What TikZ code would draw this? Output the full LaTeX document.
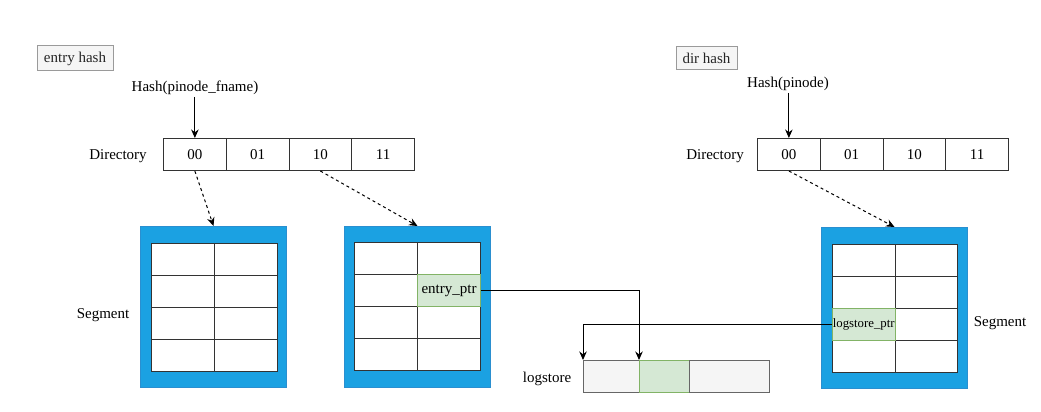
\documentclass[tikz,border=0pt]{standalone}
\usepackage{fontspec}
\setmainfont{Liberation Serif}
\usetikzlibrary{arrows.meta}
\definecolor{segblue}{HTML}{1BA1E2}
\definecolor{segborder}{HTML}{2A8FD0}
\definecolor{ptrgreen}{HTML}{D5E8D4}
\definecolor{ptrborder}{HTML}{82B366}
\definecolor{taggray}{HTML}{F5F5F5}
\definecolor{tagborder}{HTML}{9A9A9A}
\definecolor{celline}{HTML}{333333}
\begin{document}
\begin{tikzpicture}[x=1pt,y=-1pt,line width=1pt,
  every node/.style={font=\fontsize{15}{18}\selectfont},
  lbl/.style={inner sep=0pt},
  tag/.style={draw=tagborder,fill=taggray,inner sep=0pt,text=black!85},
  dircell/.style={draw=celline,minimum width=62.75pt,minimum height=32pt,inner sep=0pt,anchor=north west},
  seg/.style={draw=segborder,fill=segblue,anchor=north west,minimum width=146pt,minimum height=161pt,inner sep=0pt},
  tcell/.style={draw=celline,fill=white,minimum width=63pt,minimum height=32pt,inner sep=0pt,anchor=north west},
  ptrcell/.style={tcell,fill=ptrgreen,draw=ptrborder},
  lcell/.style={draw=black!60,fill=taggray,minimum height=32pt,inner sep=0pt,anchor=north west},
  dasharrow/.style={dashed,-{Stealth[length=8.5pt,width=7.5pt]}},
  solidarrow/.style={-{Stealth[length=8.5pt,width=7.5pt]}},
]
\useasboundingbox (0,0) rectangle (1041,412);

% ---------- left: entry hash ----------
\node[tag,minimum width=76pt,minimum height=25pt] (tagE) at (75,58.5) {entry hash};
\node[lbl] (hashE) at (195,87.5) {Hash(pinode\_fname)};
\node[lbl] (dirE) at (118,156) {Directory};
\node[dircell] (e1) at (163,138) {00};
\node[dircell] (e2) at (225.75,138) {01};
\node[dircell] (e3) at (288.5,138) {10};
\node[dircell] (e4) at (351.25,138) {11};
\coordinate (hE) at ([yshift=-2pt]hashE.south -| e1.north);
\draw[solidarrow] (hE) -- (e1.north);

% segment 1
\node[seg] (seg1) at (140,226) {};
\foreach \r in {1,...,4}
  \foreach \c in {1,2}
    \node[tcell] (sA-\r-\c) at ({151+63*(\c-1)},{243+32*(\r-1)}) {};
\node[lbl] (segL) at (103,315) {Segment};

% segment 2
\node[seg] (seg2) at (344,226) {};
\foreach \r/\c in {1/1,1/2,2/1,3/1,3/2,4/1,4/2}
  \node[tcell] (sB-\r-\c) at ({354+63*(\c-1)},{242+32*(\r-1)}) {};
\node[ptrcell] (eptr) at (417,274) {entry\_ptr};

\draw[dasharrow] (e1.south) -- (seg1.north);
\draw[dasharrow] (e3.south) -- (seg2.north);

% ---------- right: dir hash ----------
\node[tag,minimum width=61pt,minimum height=23pt] (tagD) at (706.5,58.5) {dir hash};
\node[lbl] (hashD) at (788,83.5) {Hash(pinode)};
\node[lbl] (dirD) at (715,156) {Directory};
\node[dircell] (r1) at (757,138) {00};
\node[dircell] (r2) at (819.75,138) {01};
\node[dircell] (r3) at (882.5,138) {10};
\node[dircell] (r4) at (945.25,138) {11};
\coordinate (hD) at ([yshift=-2pt]hashD.south -| r1.north);
\draw[solidarrow] (hD) -- (r1.north);

% segment 3
\node[seg] (seg3) at (821,227) {};
\foreach \r/\c in {1/1,1/2,2/1,2/2,3/2,4/1,4/2}
  \node[tcell,minimum width=62.5pt] (sC-\r-\c) at ({832+62.5*(\c-1)},{244+32*(\r-1)}) {};
\node[ptrcell,minimum width=62.5pt,font=\fontsize{12.8}{15}\selectfont] (lptr) at (832,308) {logstore\_ptr};
\node[lbl] (segR) at (1000,323) {Segment};

\draw[dasharrow] (r1.south) -- (seg3.north);

% ---------- logstore ----------
\node[lbl] (lsL) at (547,379) {logstore};
\node[lcell,minimum width=56pt] (ls1) at (583,360) {};
\node[lcell,minimum width=50pt,fill=ptrgreen,draw=ptrborder] (ls2) at (639,360) {};
\node[lcell,minimum width=80pt] (ls3) at (689,360) {};

\draw[solidarrow] (eptr.east) -| (ls2.north west);
\draw[solidarrow] (lptr.west) -| (ls1.north west);
\end{tikzpicture}
\end{document}
